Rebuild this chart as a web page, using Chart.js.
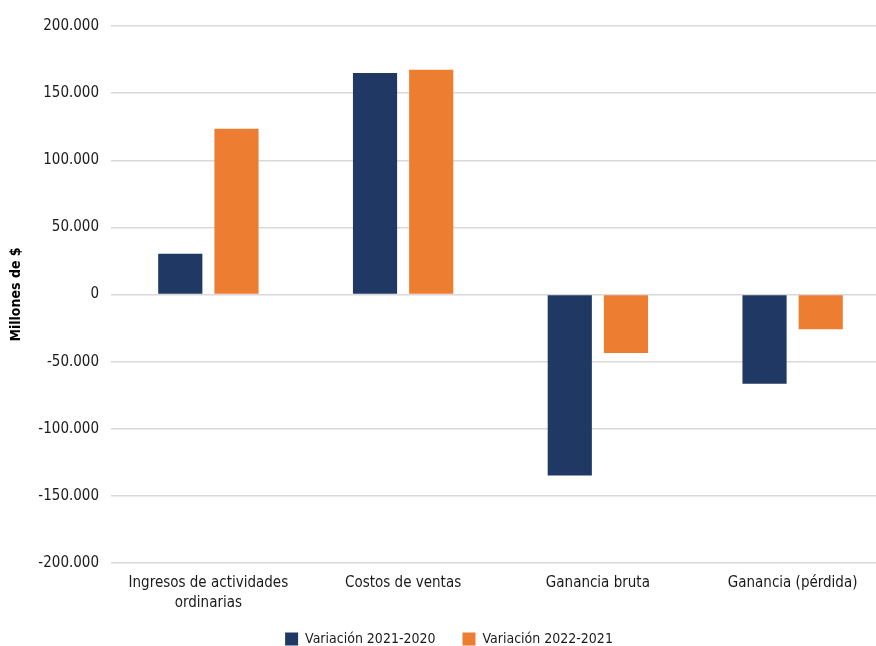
<!DOCTYPE html>
<html>
<head>
<meta charset="utf-8">
<script src="https://cdn.jsdelivr.net/npm/chart.js@4/dist/chart.umd.min.js"></script>
<style>
  html, body { margin: 0; padding: 0; background: #fff; overflow: hidden; }
  #wrap { width: 890px; height: 646px; }
</style>
</head>
<body>
<div id="wrap"><canvas id="chart"></canvas></div>
<script>
const categories = [
  ["Ingresos de actividades", "ordinarias"],
  "Costos de ventas",
  "Ganancia bruta",
  "Ganancia (pérdida)"
];
const seriesNames = ["Variación 2021-2020", "Variación 2022-2021"];
const var2021 = [30300, 164900, -134900, -66500];
const var2022 = [123500, 167400, -43500, -25800];
const yTicks = { min: -200000, max: 200000, step: 50000 };

const fontFamily = '"Liberation Sans Narrow", "DejaVu Sans Condensed", "Roboto", sans-serif';
const textColor = "#1a1a1a";

function fmt(v) {
  return String(Math.abs(v)).replace(/\B(?=(\d{3})+(?!\d))/g, ".").replace(/^/, v < 0 ? "-" : "");
}

// legend takes less room than chart.js gives it, and is drawn a bit higher
const tightLegend = {
  id: "tightLegend",
  beforeInit(chart) {
    const fit = chart.legend.fit;
    chart.legend.fit = function () {
      fit.call(this);
      this.height -= 20;
    };
  },
  afterLayout(chart) {
    const lg = chart.legend;
    lg.top -= 10;
    lg.bottom = chart.height;
    lg.height = lg.bottom - lg.top;
  }
};

new Chart(document.getElementById("chart"), {
  type: "bar",
  data: {
    labels: categories,
    datasets: [
      {
        label: seriesNames[0],
        data: var2021,
        backgroundColor: "#1f3864",
        categoryPercentage: 0.577,
        barPercentage: 0.786
      },
      {
        label: seriesNames[1],
        data: var2022,
        backgroundColor: "#ed7d31",
        categoryPercentage: 0.577,
        barPercentage: 0.786
      }
    ]
  },
  options: {
    responsive: true,
    maintainAspectRatio: false,
    animation: false,
    layout: { padding: { left: 8, top: 26, right: 0, bottom: 0 } },
    scales: {
      y: {
        min: yTicks.min,
        max: yTicks.max,
        ticks: {
          stepSize: yTicks.step,
          color: textColor,
          padding: 12,
          font: { family: fontFamily, size: 15 },
          callback: v => fmt(v)
        },
        grid: { color: "#d9d9d9", lineWidth: 1.5, drawTicks: false },
        border: { display: false },
        title: {
          display: true,
          text: "Millones de $",
          color: "#000",
          font: { family: fontFamily, size: 14, weight: "bold" },
          padding: { top: 0, bottom: 0 }
        },
        afterFit: scale => { scale.width = 103; }
      },
      x: {
        grid: { display: false, drawTicks: false },
        border: { display: false },
        ticks: {
          color: textColor,
          padding: 10,
          maxRotation: 0,
          font: { family: fontFamily, size: 15, lineHeight: 1.33 }
        },
        afterFit: scale => { scale.height = 52; }
      }
    },
    plugins: {
      legend: {
        position: "bottom",
        labels: {
          color: textColor,
          boxWidth: 13,
          boxHeight: 13,
          padding: 27,
          font: { family: fontFamily, size: 14 }
        }
      },
      tooltip: { enabled: false }
    }
  },
  plugins: [tightLegend]
});
</script>
</body>
</html>
